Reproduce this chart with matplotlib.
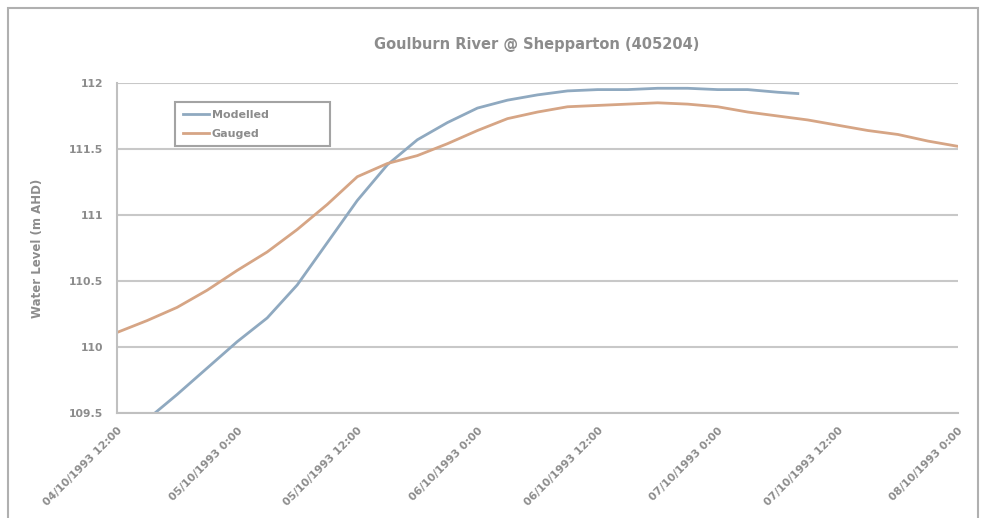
import matplotlib.pyplot as plt
from matplotlib.patches import Rectangle

# hours from first tick (each tick = 12 h)
gauged_hours = [0, 3, 6, 9, 12, 15, 18, 21, 24, 27, 30, 33, 36, 39, 42, 45, 48,
                51, 54, 57, 60, 63, 66, 69, 72, 75, 78, 81, 84]
gauged_level = [110.11, 110.20, 110.30, 110.43, 110.58, 110.72, 110.89, 111.08,
                111.29, 111.39, 111.45, 111.54, 111.64, 111.73, 111.78, 111.82,
                111.83, 111.84, 111.85, 111.84, 111.82, 111.78, 111.75, 111.72,
                111.68, 111.64, 111.61, 111.56, 111.52]

modelled_hours = [0, 3, 6, 9, 12, 15, 18, 21, 24, 27, 30, 33, 36, 39, 42, 45,
                  48, 51, 54, 57, 60, 63, 66, 68]
modelled_level = [109.20, 109.45, 109.64, 109.84, 110.04, 110.22, 110.47, 110.79,
                  111.11, 111.38, 111.57, 111.70, 111.81, 111.87, 111.91, 111.94,
                  111.95, 111.95, 111.96, 111.96, 111.95, 111.95, 111.93, 111.92]

tick_hours = [0, 12, 24, 36, 48, 60, 72, 84]
tick_labels = ["04/10/1993 12:00", "05/10/1993 0:00", "05/10/1993 12:00",
               "06/10/1993 0:00", "06/10/1993 12:00", "07/10/1993 0:00",
               "07/10/1993 12:00", "08/10/1993 0:00"]
y_ticks = [109.5, 110, 110.5, 111, 111.5, 112]

grey = '#8c8c8c'

fig = plt.figure(figsize=(9.87, 5.18), dpi=100)
fig.patches.append(Rectangle((8 / 987, -0.05), 970 / 987, 1.05 - 8 / 518,
                             transform=fig.transFigure, fill=False,
                             edgecolor='#b0b0b0', linewidth=1.5))

ax = fig.add_axes([117 / 987, 1 - 413 / 518, 841 / 987, 330 / 518])

ax.plot(modelled_hours, modelled_level, color='#8fa9c0', linewidth=2, label='Modelled')
ax.plot(gauged_hours, gauged_level, color='#d6a585', linewidth=2, label='Gauged')

ax.set_xlim(0, 84)
ax.set_ylim(109.5, 112)
ax.set_yticks(y_ticks)
ax.set_yticklabels(['109.5', '110', '110.5', '111', '111.5', '112'])
ax.set_xticks(tick_hours)
ax.set_xticklabels(tick_labels, rotation=45, ha='right', rotation_mode='anchor')
ax.tick_params(colors=grey, length=0)
ax.tick_params(axis='x', labelsize=7.8, pad=9)
ax.tick_params(axis='y', labelsize=7.8, pad=10)
for lab in ax.get_xticklabels() + ax.get_yticklabels():
    lab.set_fontweight('bold')
ax.grid(axis='y', color='#c8c8c8', linewidth=1.5)
ax.set_axisbelow(True)
for s in ['top', 'right']:
    ax.spines[s].set_visible(False)
for s in ['left', 'bottom']:
    ax.spines[s].set_color('#c0c0c0')
    ax.spines[s].set_linewidth(1.5)

ax.set_ylabel('Water Level (m AHD)', color=grey, fontsize=8.5, fontweight='bold',
              labelpad=18)
fig.text(537 / 987, 1 - 45 / 518, 'Goulburn River @ Shepparton (405204)',
         ha='center', va='center', color=grey, fontsize=10.5, fontweight='bold')

leg = ax.legend(loc='upper left', bbox_to_anchor=(58 / 841, 1 - 19 / 330, 155 / 841, 0),
                mode='expand', frameon=True, fancybox=False,
                handlelength=2.4, borderpad=0.7, labelspacing=0.8, borderaxespad=0,
                handletextpad=0.2, prop={'weight': 'bold', 'size': 8})
leg.get_frame().set_edgecolor(grey)
leg.get_frame().set_linewidth(1.5)
for t in leg.get_texts():
    t.set_color(grey)

fig.savefig('out.png', dpi=100)
